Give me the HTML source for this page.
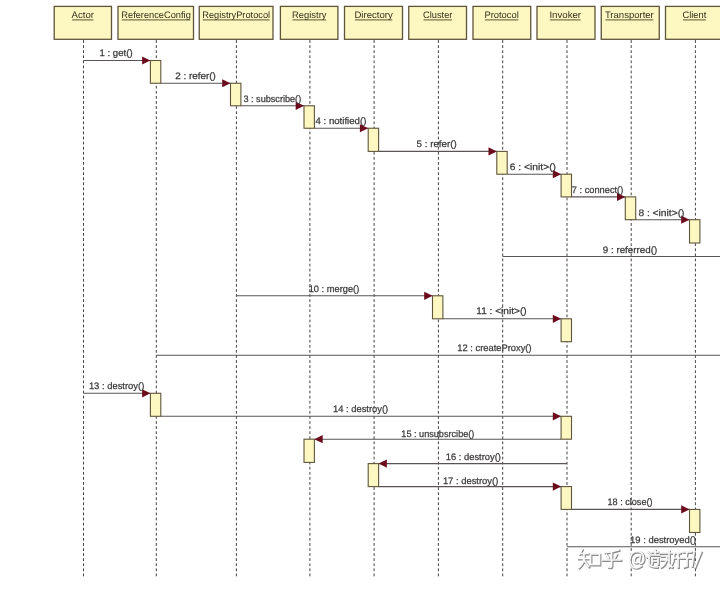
<!DOCTYPE html><html><head><meta charset="utf-8"><style>html,body{margin:0;padding:0;background:#fff;overflow:hidden}svg{display:block}#w{will-change:transform}text{font-family:"Liberation Sans",sans-serif;text-rendering:geometricPrecision}</style></head><body>
<div id="w">
<svg width="720" height="589" viewBox="0 0 720 589">
<rect x="0" y="0" width="720" height="589" fill="#ffffff"/>
<line x1="83.5" y1="40.1" x2="83.5" y2="576.5" stroke="#424242" stroke-width="1" stroke-dasharray="2.8 2.28"/>
<line x1="156.3" y1="40.1" x2="156.3" y2="576.5" stroke="#424242" stroke-width="1" stroke-dasharray="2.8 2.28"/>
<line x1="236.4" y1="40.1" x2="236.4" y2="576.5" stroke="#424242" stroke-width="1" stroke-dasharray="2.8 2.28"/>
<line x1="309.9" y1="40.1" x2="309.9" y2="576.5" stroke="#424242" stroke-width="1" stroke-dasharray="2.8 2.28"/>
<line x1="374.1" y1="40.1" x2="374.1" y2="576.5" stroke="#424242" stroke-width="1" stroke-dasharray="2.8 2.28"/>
<line x1="438.4" y1="40.1" x2="438.4" y2="576.5" stroke="#424242" stroke-width="1" stroke-dasharray="2.8 2.28"/>
<line x1="502.7" y1="40.1" x2="502.7" y2="576.5" stroke="#424242" stroke-width="1" stroke-dasharray="2.8 2.28"/>
<line x1="567" y1="40.1" x2="567" y2="576.5" stroke="#424242" stroke-width="1" stroke-dasharray="2.8 2.28"/>
<line x1="631.2" y1="40.1" x2="631.2" y2="576.5" stroke="#424242" stroke-width="1" stroke-dasharray="2.8 2.28"/>
<line x1="695.4" y1="40.1" x2="695.4" y2="576.5" stroke="#424242" stroke-width="1" stroke-dasharray="2.8 2.28"/>
<rect x="54.2" y="6.4" width="57.3" height="32.9" fill="#fdf7c2" stroke="#5f553a" stroke-width="1.3"/>
<text x="71.6" y="18.2" font-size="9.4" fill="#30301a" textLength="22.30000000000001" lengthAdjust="spacingAndGlyphs">Actor</text>
<rect x="72.1" y="19.4" width="21.30000000000001" height="1" fill="#5a5630"/>
<rect x="118" y="6.4" width="75.5" height="32.9" fill="#fdf7c2" stroke="#5f553a" stroke-width="1.3"/>
<text x="121.3" y="18.2" font-size="9.4" fill="#30301a" textLength="69.50000000000001" lengthAdjust="spacingAndGlyphs">ReferenceConfig</text>
<rect x="121.8" y="19.4" width="68.50000000000001" height="1" fill="#5a5630"/>
<rect x="199.25" y="6.4" width="73.75" height="32.9" fill="#fdf7c2" stroke="#5f553a" stroke-width="1.3"/>
<text x="202.3" y="18.2" font-size="9.4" fill="#30301a" textLength="67.80000000000001" lengthAdjust="spacingAndGlyphs">RegistryProtocol</text>
<rect x="202.8" y="19.4" width="66.80000000000001" height="1" fill="#5a5630"/>
<rect x="280.4" y="6.4" width="57.5" height="32.9" fill="#fdf7c2" stroke="#5f553a" stroke-width="1.3"/>
<text x="292.0" y="18.2" font-size="9.4" fill="#30301a" textLength="34.5" lengthAdjust="spacingAndGlyphs">Registry</text>
<rect x="292.5" y="19.4" width="33.5" height="1" fill="#5a5630"/>
<rect x="344.5" y="6.4" width="58.0" height="32.9" fill="#fdf7c2" stroke="#5f553a" stroke-width="1.3"/>
<text x="354.4" y="18.2" font-size="9.4" fill="#30301a" textLength="38.400000000000034" lengthAdjust="spacingAndGlyphs">Directory</text>
<rect x="354.9" y="19.4" width="37.400000000000034" height="1" fill="#5a5630"/>
<rect x="408.75" y="6.4" width="57.75" height="32.9" fill="#fdf7c2" stroke="#5f553a" stroke-width="1.3"/>
<text x="423.0" y="18.2" font-size="9.4" fill="#30301a" textLength="29.399999999999977" lengthAdjust="spacingAndGlyphs">Cluster</text>
<rect x="423.5" y="19.4" width="28.399999999999977" height="1" fill="#5a5630"/>
<rect x="473" y="6.4" width="57.75" height="32.9" fill="#fdf7c2" stroke="#5f553a" stroke-width="1.3"/>
<text x="484.4" y="18.2" font-size="9.4" fill="#30301a" textLength="34.39999999999998" lengthAdjust="spacingAndGlyphs">Protocol</text>
<rect x="484.9" y="19.4" width="33.39999999999998" height="1" fill="#5a5630"/>
<rect x="537" y="6.4" width="58" height="32.9" fill="#fdf7c2" stroke="#5f553a" stroke-width="1.3"/>
<text x="549.4" y="18.2" font-size="9.4" fill="#30301a" textLength="31.700000000000045" lengthAdjust="spacingAndGlyphs">Invoker</text>
<rect x="549.9" y="19.4" width="30.700000000000045" height="1" fill="#5a5630"/>
<rect x="601.25" y="6.4" width="58.0" height="32.9" fill="#fdf7c2" stroke="#5f553a" stroke-width="1.3"/>
<text x="604.9" y="18.2" font-size="9.4" fill="#30301a" textLength="48.89999999999998" lengthAdjust="spacingAndGlyphs">Transporter</text>
<rect x="605.4" y="19.4" width="47.89999999999998" height="1" fill="#5a5630"/>
<rect x="665.5" y="6.4" width="58.5" height="32.9" fill="#fdf7c2" stroke="#5f553a" stroke-width="1.3"/>
<text x="682.4" y="18.2" font-size="9.4" fill="#30301a" textLength="23.899999999999977" lengthAdjust="spacingAndGlyphs">Client</text>
<rect x="682.9" y="19.4" width="22.899999999999977" height="1" fill="#5a5630"/>
<line x1="83.5" y1="60.5" x2="150.40000000000003" y2="60.5" stroke="#5a5453" stroke-width="1.1"/>
<polygon points="150.40000000000003,60.5 142.10000000000002,56.4 142.10000000000002,64.6" fill="#6b0c1c"/>
<text x="99.5" y="56.400000000000006" font-size="9.4" fill="#3a3a3a" stroke="#3a3a3a" stroke-width="0.25" textLength="33.099999999999994" lengthAdjust="spacingAndGlyphs">1 : get()</text>
<line x1="160.8" y1="83.25" x2="230.50000000000003" y2="83.25" stroke="#5a5453" stroke-width="1.1"/>
<polygon points="230.50000000000003,83.25 222.20000000000002,79.15 222.20000000000002,87.35" fill="#6b0c1c"/>
<text x="175.2" y="79.35000000000001" font-size="9.4" fill="#3a3a3a" stroke="#3a3a3a" stroke-width="0.25" textLength="40.70000000000002" lengthAdjust="spacingAndGlyphs">2 : refer()</text>
<line x1="240.9" y1="105.8" x2="304.0" y2="105.8" stroke="#5a5453" stroke-width="1.1"/>
<polygon points="304.0,105.8 295.7,101.7 295.7,109.89999999999999" fill="#6b0c1c"/>
<text x="243.4" y="101.65" font-size="9.4" fill="#3a3a3a" stroke="#3a3a3a" stroke-width="0.25" textLength="57.79999999999998" lengthAdjust="spacingAndGlyphs">3 : subscribe()</text>
<line x1="314.4" y1="128.25" x2="368.20000000000005" y2="128.25" stroke="#5a5453" stroke-width="1.1"/>
<polygon points="368.20000000000005,128.25 359.90000000000003,124.15 359.90000000000003,132.35" fill="#6b0c1c"/>
<text x="315.5" y="124.2" font-size="9.4" fill="#3a3a3a" stroke="#3a3a3a" stroke-width="0.25" textLength="50.89999999999998" lengthAdjust="spacingAndGlyphs">4 : notified()</text>
<line x1="378.6" y1="151.4" x2="496.8" y2="151.4" stroke="#5a5453" stroke-width="1.1"/>
<polygon points="496.8,151.4 488.5,147.3 488.5,155.5" fill="#6b0c1c"/>
<text x="416.6" y="147.1" font-size="9.4" fill="#3a3a3a" stroke="#3a3a3a" stroke-width="0.25" textLength="40.14999999999998" lengthAdjust="spacingAndGlyphs">5 : refer()</text>
<line x1="507.2" y1="174.2" x2="561.0999999999999" y2="174.2" stroke="#5a5453" stroke-width="1.1"/>
<polygon points="561.0999999999999,174.2 552.8,170.1 552.8,178.29999999999998" fill="#6b0c1c"/>
<text x="509.8" y="170.04999999999998" font-size="9.4" fill="#3a3a3a" stroke="#3a3a3a" stroke-width="0.25" textLength="46.19999999999999" lengthAdjust="spacingAndGlyphs">6 : &lt;init&gt;()</text>
<line x1="571.5" y1="196.9" x2="625.3" y2="196.9" stroke="#5a5453" stroke-width="1.1"/>
<polygon points="625.3,196.9 617.0,192.8 617.0,201.0" fill="#6b0c1c"/>
<text x="571.8" y="192.54999999999998" font-size="9.4" fill="#3a3a3a" stroke="#3a3a3a" stroke-width="0.25" textLength="51.5" lengthAdjust="spacingAndGlyphs">7 : connect()</text>
<line x1="635.7" y1="219.7" x2="689.4999999999999" y2="219.7" stroke="#5a5453" stroke-width="1.1"/>
<polygon points="689.4999999999999,219.7 681.1999999999999,215.6 681.1999999999999,223.79999999999998" fill="#6b0c1c"/>
<text x="638.4" y="215.59999999999997" font-size="9.4" fill="#3a3a3a" stroke="#3a3a3a" stroke-width="0.25" textLength="46.10000000000002" lengthAdjust="spacingAndGlyphs">8 : &lt;init&gt;()</text>
<line x1="502.7" y1="256.5" x2="720" y2="256.5" stroke="#5a5453" stroke-width="1.1"/>
<text x="602.8" y="252.95" font-size="9.4" fill="#3a3a3a" stroke="#3a3a3a" stroke-width="0.25" textLength="54.40000000000009" lengthAdjust="spacingAndGlyphs">9 : referred()</text>
<line x1="236.4" y1="295.8" x2="432.5" y2="295.8" stroke="#5a5453" stroke-width="1.1"/>
<polygon points="432.5,295.8 424.2,291.7 424.2,299.90000000000003" fill="#6b0c1c"/>
<text x="308.7" y="291.7" font-size="9.4" fill="#3a3a3a" stroke="#3a3a3a" stroke-width="0.25" textLength="50.60000000000002" lengthAdjust="spacingAndGlyphs">10 : merge()</text>
<line x1="442.9" y1="318.8" x2="561.0999999999999" y2="318.8" stroke="#5a5453" stroke-width="1.1"/>
<polygon points="561.0999999999999,318.8 552.8,314.7 552.8,322.90000000000003" fill="#6b0c1c"/>
<text x="476.3" y="314.45" font-size="9.4" fill="#3a3a3a" stroke="#3a3a3a" stroke-width="0.25" textLength="50.400000000000034" lengthAdjust="spacingAndGlyphs">11 : &lt;init&gt;()</text>
<line x1="156.3" y1="355.3" x2="720" y2="355.3" stroke="#5a5453" stroke-width="1.1"/>
<text x="457.3" y="350.95" font-size="9.4" fill="#3a3a3a" stroke="#3a3a3a" stroke-width="0.25" textLength="74.30000000000001" lengthAdjust="spacingAndGlyphs">12 : createProxy()</text>
<line x1="83.5" y1="393.3" x2="150.40000000000003" y2="393.3" stroke="#5a5453" stroke-width="1.1"/>
<polygon points="150.40000000000003,393.3 142.10000000000002,389.2 142.10000000000002,397.40000000000003" fill="#6b0c1c"/>
<text x="88.9" y="389.05" font-size="9.4" fill="#3a3a3a" stroke="#3a3a3a" stroke-width="0.25" textLength="55.400000000000006" lengthAdjust="spacingAndGlyphs">13 : destroy()</text>
<line x1="160.8" y1="416.3" x2="561.0999999999999" y2="416.3" stroke="#5a5453" stroke-width="1.1"/>
<polygon points="561.0999999999999,416.3 552.8,412.2 552.8,420.40000000000003" fill="#6b0c1c"/>
<text x="333.1" y="412.0" font-size="9.4" fill="#3a3a3a" stroke="#3a3a3a" stroke-width="0.25" textLength="55.099999999999966" lengthAdjust="spacingAndGlyphs">14 : destroy()</text>
<line x1="561.0999999999999" y1="439.2" x2="314.4" y2="439.2" stroke="#5a5453" stroke-width="1.1"/>
<polygon points="314.4,439.2 322.7,435.09999999999997 322.7,443.3" fill="#6b0c1c"/>
<text x="401.3" y="437.25" font-size="9.4" fill="#3a3a3a" stroke="#3a3a3a" stroke-width="0.25" textLength="73.09999999999997" lengthAdjust="spacingAndGlyphs">15 : unsubsrcibe()</text>
<line x1="567" y1="463.6" x2="378.6" y2="463.6" stroke="#5a5453" stroke-width="1.1"/>
<polygon points="378.6,463.6 386.90000000000003,459.5 386.90000000000003,467.70000000000005" fill="#6b0c1c"/>
<text x="445.8" y="460.35" font-size="9.4" fill="#3a3a3a" stroke="#3a3a3a" stroke-width="0.25" textLength="55.099999999999966" lengthAdjust="spacingAndGlyphs">16 : destroy()</text>
<line x1="378.6" y1="486.6" x2="561.0999999999999" y2="486.6" stroke="#5a5453" stroke-width="1.1"/>
<polygon points="561.0999999999999,486.6 552.8,482.5 552.8,490.70000000000005" fill="#6b0c1c"/>
<text x="442.9" y="484.25" font-size="9.4" fill="#3a3a3a" stroke="#3a3a3a" stroke-width="0.25" textLength="55.400000000000034" lengthAdjust="spacingAndGlyphs">17 : destroy()</text>
<line x1="571.5" y1="509.4" x2="689.4999999999999" y2="509.4" stroke="#5a5453" stroke-width="1.1"/>
<polygon points="689.4999999999999,509.4 681.1999999999999,505.29999999999995 681.1999999999999,513.5" fill="#6b0c1c"/>
<text x="607.5" y="505.04999999999995" font-size="9.4" fill="#3a3a3a" stroke="#3a3a3a" stroke-width="0.25" textLength="45" lengthAdjust="spacingAndGlyphs">18 : close()</text>
<line x1="567" y1="546.7" x2="720" y2="546.7" stroke="#5a5453" stroke-width="1.1"/>
<text x="630.1" y="542.5500000000001" font-size="9.4" fill="#3a3a3a" stroke="#3a3a3a" stroke-width="0.25" textLength="66.0" lengthAdjust="spacingAndGlyphs">19 : destroyed()</text>
<rect x="150.40000000000003" y="60.5" width="10.4" height="22.75" fill="#fdf7c2" stroke="#5f553a" stroke-width="1.1"/>
<rect x="230.50000000000003" y="83.25" width="10.4" height="22.549999999999997" fill="#fdf7c2" stroke="#5f553a" stroke-width="1.1"/>
<rect x="304.0" y="105.8" width="10.4" height="22.450000000000003" fill="#fdf7c2" stroke="#5f553a" stroke-width="1.1"/>
<rect x="368.20000000000005" y="128.25" width="10.4" height="23.150000000000006" fill="#fdf7c2" stroke="#5f553a" stroke-width="1.1"/>
<rect x="496.8" y="151.4" width="10.4" height="22.799999999999983" fill="#fdf7c2" stroke="#5f553a" stroke-width="1.1"/>
<rect x="561.0999999999999" y="174.2" width="10.4" height="22.700000000000017" fill="#fdf7c2" stroke="#5f553a" stroke-width="1.1"/>
<rect x="625.3" y="196.9" width="10.4" height="22.799999999999983" fill="#fdf7c2" stroke="#5f553a" stroke-width="1.1"/>
<rect x="689.4999999999999" y="219.7" width="10.4" height="23.30000000000001" fill="#fdf7c2" stroke="#5f553a" stroke-width="1.1"/>
<rect x="432.5" y="295.8" width="10.4" height="23.0" fill="#fdf7c2" stroke="#5f553a" stroke-width="1.1"/>
<rect x="561.0999999999999" y="318.8" width="10.4" height="22.899999999999977" fill="#fdf7c2" stroke="#5f553a" stroke-width="1.1"/>
<rect x="150.40000000000003" y="393.3" width="10.4" height="23.0" fill="#fdf7c2" stroke="#5f553a" stroke-width="1.1"/>
<rect x="561.0999999999999" y="416.3" width="10.4" height="22.899999999999977" fill="#fdf7c2" stroke="#5f553a" stroke-width="1.1"/>
<rect x="304.0" y="439.2" width="10.4" height="23.19999999999999" fill="#fdf7c2" stroke="#5f553a" stroke-width="1.1"/>
<rect x="368.20000000000005" y="463.6" width="10.4" height="23.0" fill="#fdf7c2" stroke="#5f553a" stroke-width="1.1"/>
<rect x="561.0999999999999" y="486.6" width="10.4" height="22.799999999999955" fill="#fdf7c2" stroke="#5f553a" stroke-width="1.1"/>
<rect x="689.4999999999999" y="509.4" width="10.4" height="23.100000000000023" fill="#fdf7c2" stroke="#5f553a" stroke-width="1.1"/>
<g fill="none" stroke-linecap="square">
 <g transform="translate(578.5,549.5) scale(1.0)">
  <path transform="translate(0.8,0.8)" stroke="#8a8a8a" stroke-width="2.3" d="M3.5,0 L1,4.5 M1.5,4 L9.5,4 M0,9 L10.5,9 M5.5,4 L5.5,9.5 Q4.5,14.5 0.5,18 M6,11.5 L10,17 M12,4.5 L21,4.5 L21,15 L12,15 Z"/>
  <path stroke="#fafafa" stroke-width="1.7" d="M3.5,0 L1,4.5 M1.5,4 L9.5,4 M0,9 L10.5,9 M5.5,4 L5.5,9.5 Q4.5,14.5 0.5,18 M6,11.5 L10,17 M12,4.5 L21,4.5 L21,15 L12,15 Z"/>
 </g>
 <g transform="translate(602,549.5) scale(1.0)">
  <path transform="translate(0.8,0.8)" stroke="#8a8a8a" stroke-width="2.3" d="M16.5,0.5 Q10,2.5 3,3.2 M4.5,5.5 L6.5,8.5 M14.5,5 L12.5,8.5 M0.5,10.5 L18.5,10.5 M9.5,3.2 L9.5,16.5 Q9.5,18.5 6.5,17.5"/>
  <path stroke="#fafafa" stroke-width="1.7" d="M16.5,0.5 Q10,2.5 3,3.2 M4.5,5.5 L6.5,8.5 M14.5,5 L12.5,8.5 M0.5,10.5 L18.5,10.5 M9.5,3.2 L9.5,16.5 Q9.5,18.5 6.5,17.5"/>
 </g>
 <g transform="translate(629.5,550.5) scale(1.0)">
  <path transform="translate(0.8,0.8)" stroke="#8a8a8a" stroke-width="2.3" d="M11.5,15.5 Q7,18.5 3.5,16.5 Q0,14 0.3,9 Q0.8,1.5 7.5,1 Q14,1 14.2,8 Q14.2,12.5 11,12.8 Q9.8,12.8 10,10.5 L10.8,5.5 M10.3,8.5 Q9.5,12.3 6.2,12.3 Q4.3,11.8 4.8,8.5 Q5.5,5.3 8.8,5.5"/>
  <path stroke="#fafafa" stroke-width="1.7" d="M11.5,15.5 Q7,18.5 3.5,16.5 Q0,14 0.3,9 Q0.8,1.5 7.5,1 Q14,1 14.2,8 Q14.2,12.5 11,12.8 Q9.8,12.8 10,10.5 L10.8,5.5 M10.3,8.5 Q9.5,12.3 6.2,12.3 Q4.3,11.8 4.8,8.5 Q5.5,5.3 8.8,5.5"/>
 </g>
 <g transform="translate(647,549) scale(1.0)">
  <path transform="translate(0.8,0.8)" stroke="#8a8a8a" stroke-width="2.3" d="M1,3 L3,5 M0,8 L2,8 L2,15 Q3,18 10,18 M5,3 L11,3 M4,6 L12,6 M5,9 L11,9 M5,12 L11,12 M5,9 L5,15 M11,9 L11,15 M8,1 L8,6 M13,4 L21,4 M14,7 L20,7 L19,12 Q17,17 14,18 M14,11 L21,11 M22,2 L22,16 L25,18 M24,4 L33,4 M27,4 L26,12 Q25,16 22,18 M28,9 L34,9 M31,4 L31,18 M36,3 L44,3 M40,3 L39,8 M35,9 L45,9 M40,9 L40,17 L37,18 M47,3 L45,17 M54,3 L48,18"/>
  <path stroke="#fafafa" stroke-width="1.7" d="M1,3 L3,5 M0,8 L2,8 L2,15 Q3,18 10,18 M5,3 L11,3 M4,6 L12,6 M5,9 L11,9 M5,12 L11,12 M5,9 L5,15 M11,9 L11,15 M8,1 L8,6 M13,4 L21,4 M14,7 L20,7 L19,12 Q17,17 14,18 M14,11 L21,11 M22,2 L22,16 L25,18 M24,4 L33,4 M27,4 L26,12 Q25,16 22,18 M28,9 L34,9 M31,4 L31,18 M36,3 L44,3 M40,3 L39,8 M35,9 L45,9 M40,9 L40,17 L37,18 M47,3 L45,17 M54,3 L48,18"/>
 </g>
</g>
</svg></div></body></html>
